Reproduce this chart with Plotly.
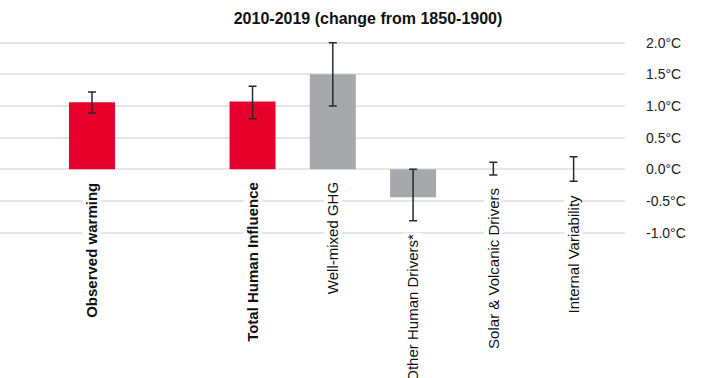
import plotly.graph_objects as go

# Contributions to 2010-2019 warming relative to 1850-1900 (°C)
categories = [
    "Observed warming",
    "",
    "Total Human Influence",
    "Well-mixed GHG",
    "Other Human Drivers*",
    "Solar & Volcanic Drivers",
    "Internal Variability",
]
best = [1.06, None, 1.07, 1.50, -0.44, 0.0, 0.0]
low = [0.89, None, 0.80, 1.00, -0.81, -0.09, -0.19]
high = [1.22, None, 1.31, 2.00, 0.00, 0.11, 0.20]
bold_labels = ["Observed warming", "Total Human Influence"]

tick_vals = [-1.0, -0.5, 0.0, 0.5, 1.0, 1.5, 2.0]
tick_text = [f"{v:.1f}°C" for v in tick_vals]

RED = "#E8002D"
GREY = "#A7A8AB"
colors = [RED if c in bold_labels else GREY for c in categories]

plus = [None if b is None else h - b for b, h in zip(best, high)]
minus = [None if b is None else b - l for b, l in zip(best, low)]

FONT = "Liberation Sans, Arial, Helvetica, sans-serif"

fig = go.Figure()
fig.add_trace(
    go.Bar(
        x=categories,
        y=best,
        marker=dict(color=colors, line=dict(width=0)),
        width=0.573,
        error_y=dict(
            type="data",
            array=plus,
            arrayminus=minus,
            symmetric=False,
            color="#2a2a2a",
            thickness=1.5,
            width=4,
        ),
        hoverinfo="skip",
    )
)

# Category labels placed under each bar or its lower whisker
for c, b, l in zip(categories, best, low):
    if not c:
        continue
    text = f"<b>{c}</b>" if c in bold_labels else c
    fig.add_annotation(
        x=c,
        y=min(0.0, l),
        xref="x",
        yref="y",
        text=text,
        textangle=-90,
        showarrow=False,
        xanchor="center",
        yanchor="top",
        yshift=-12,
        bgcolor="white",
        borderpad=0,
        font=dict(family=FONT, size=15, color="#111111"),
    )

fig.update_layout(
    title=dict(
        text="<b>2010-2019 (change from 1850-1900)</b>",
        x=368 / 702,
        y=1 - 18 / 378,
        xref="container",
        yref="container",
        xanchor="center",
        yanchor="middle",
        font=dict(family=FONT, size=16, color="#111111"),
    ),
    width=702,
    height=378,
    margin=dict(l=0, r=77, t=30, b=139),
    paper_bgcolor="white",
    plot_bgcolor="white",
    showlegend=False,
    font=dict(family=FONT, size=14, color="#222222"),
    xaxis=dict(
        type="category",
        categoryorder="array",
        categoryarray=categories,
        range=[-1.146, 6.64],
        showticklabels=False,
        showgrid=False,
        zeroline=False,
        showline=False,
        ticks="",
    ),
    yaxis=dict(
        side="right",
        range=[-1.1, 2.2],
        tickvals=tick_vals,
        ticktext=tick_text,
        showgrid=True,
        gridcolor="#e6e6e6",
        gridwidth=1.5,
        zeroline=False,
        showline=False,
        ticks="",
        ticklabelstandoff=20,
        tickfont=dict(family=FONT, size=14, color="#222222"),
    ),
)

fig.write_html("out.html")
